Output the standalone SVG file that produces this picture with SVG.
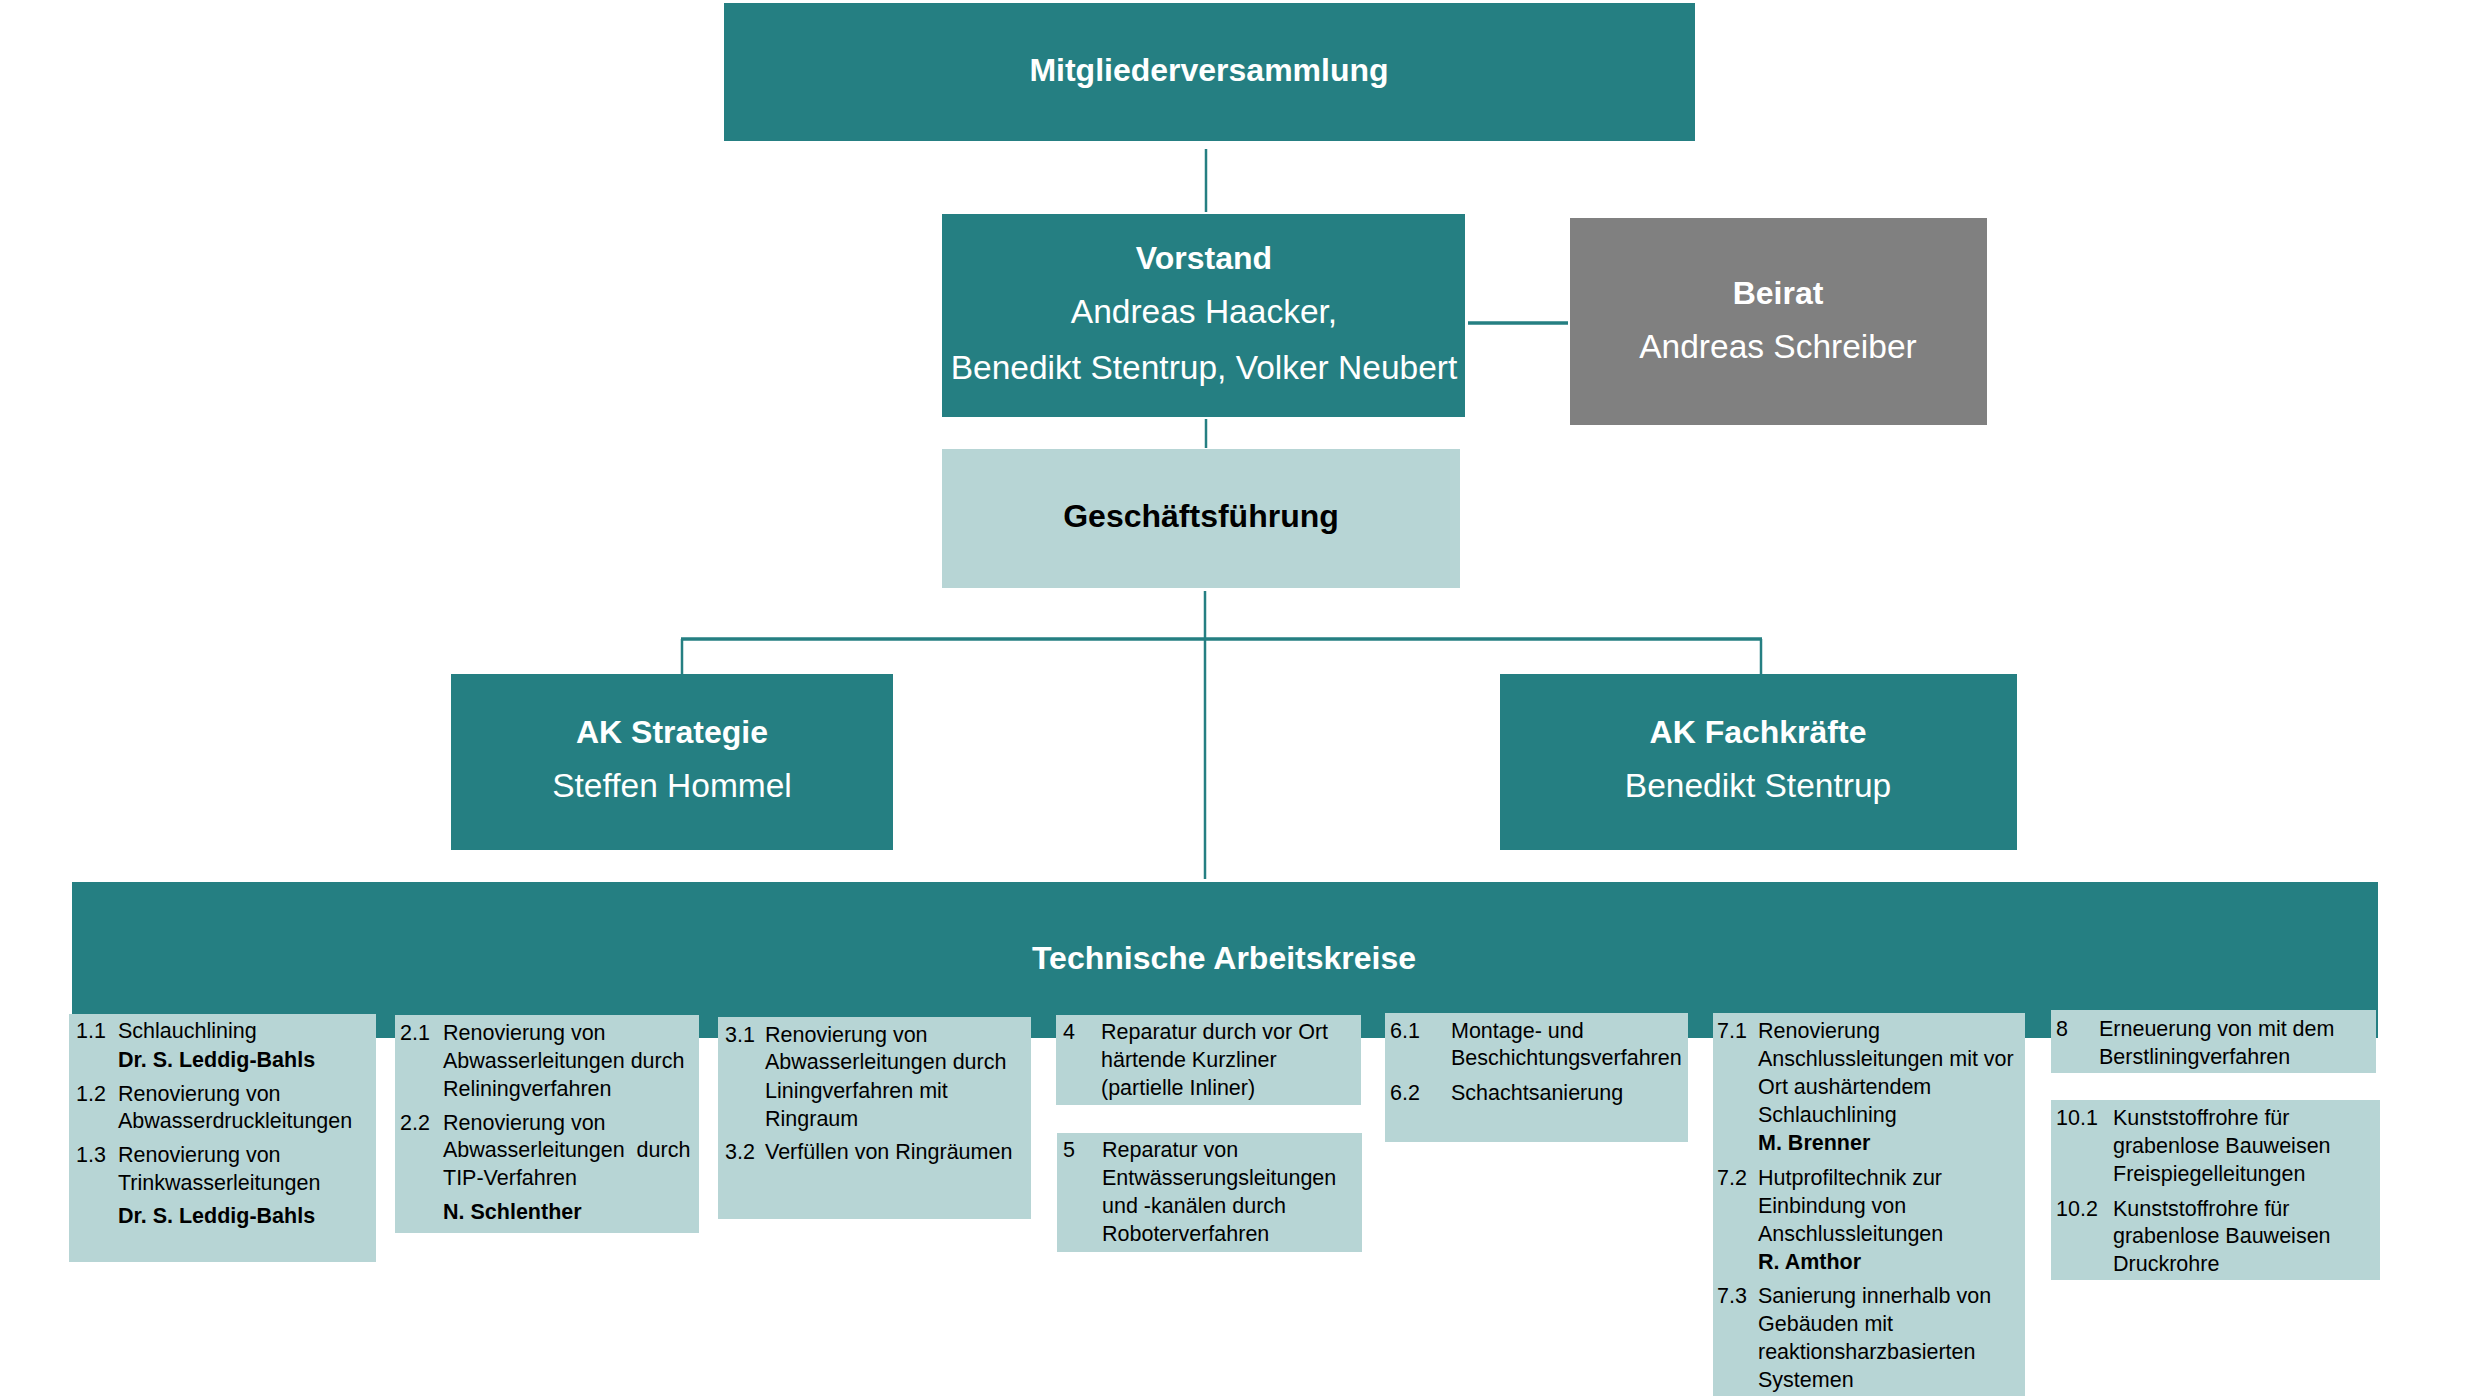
<svg xmlns="http://www.w3.org/2000/svg" width="2474" height="1396" viewBox="0 0 2474 1396">
<style>
text{font-family:"Liberation Sans",Arial,sans-serif;}
.dark{fill:#257F82;}
.grey{fill:#808080;}
.light{fill:#B7D5D5;}
.t{font-size:32px;font-weight:bold;fill:#fff;text-anchor:middle;}
.tb{font-size:32px;font-weight:bold;fill:#000;text-anchor:middle;}
.n{font-size:33.5px;fill:#fff;text-anchor:middle;}
.s{font-size:21.5px;fill:#000;white-space:pre;}
.sb{font-size:21.5px;fill:#000;font-weight:bold;}
.c{stroke:#257F82;fill:none;}
</style>
<g id="connectors">
<line class="c" x1="1206" y1="149" x2="1206" y2="212" stroke-width="2.5"/>
<line class="c" x1="1468" y1="323" x2="1568" y2="323" stroke-width="3.5"/>
<line class="c" x1="1206" y1="419" x2="1206" y2="448" stroke-width="2.5"/>
<line class="c" x1="1205" y1="591" x2="1205" y2="879" stroke-width="2.5"/>
<line class="c" x1="681" y1="639" x2="1762" y2="639" stroke-width="3.5"/>
<line class="c" x1="682" y1="639" x2="682" y2="675" stroke-width="2.5"/>
<line class="c" x1="1761" y1="639" x2="1761" y2="675" stroke-width="2.5"/>
</g>
<g id="mitgliederversammlung">
<rect class="dark" x="724" y="3" width="971" height="138"/>
<text class="t" x="1209" y="81">Mitgliederversammlung</text>
</g>
<g id="vorstand">
<rect class="dark" x="942" y="214" width="523" height="203"/>
<text class="t" x="1204" y="269">Vorstand</text>
<text class="n" x="1204" y="323">Andreas Haacker,</text>
<text class="n" x="1204" y="379">Benedikt Stentrup, Volker Neubert</text>
</g>
<g id="beirat">
<rect class="grey" x="1570" y="218" width="417" height="207"/>
<text class="t" x="1778" y="304">Beirat</text>
<text class="n" x="1778" y="358">Andreas Schreiber</text>
</g>
<g id="geschaeftsfuehrung">
<rect class="light" x="942" y="449" width="518" height="139"/>
<text class="tb" x="1201" y="527">Geschäftsführung</text>
</g>
<g id="ak-strategie">
<rect class="dark" x="451" y="674" width="442" height="176"/>
<text class="t" x="672" y="743">AK Strategie</text>
<text class="n" x="672" y="797">Steffen Hommel</text>
</g>
<g id="ak-fachkraefte">
<rect class="dark" x="1500" y="674" width="517" height="176"/>
<text class="t" x="1758" y="743">AK Fachkräfte</text>
<text class="n" x="1758" y="797">Benedikt Stentrup</text>
</g>
<g id="technische-arbeitskreise">
<rect class="dark" x="72" y="882" width="2306" height="156"/>
<text class="t" x="1224" y="969">Technische Arbeitskreise</text>
</g>
<g id="ak1">
<rect class="light" x="69" y="1014" width="307" height="248"/>
<text class="s" x="76" y="1038">1.1</text><text class="s" x="118" y="1038">Schlauchlining</text>
<text class="sb" x="118" y="1067">Dr. S. Leddig-Bahls</text>
<text class="s" x="76" y="1101">1.2</text><text class="s" x="118" y="1101">Renovierung von</text>
<text class="s" x="118" y="1128">Abwasserdruckleitungen</text>
<text class="s" x="76" y="1162">1.3</text><text class="s" x="118" y="1162">Renovierung von</text>
<text class="s" x="118" y="1190">Trinkwasserleitungen</text>
<text class="sb" x="118" y="1223">Dr. S. Leddig-Bahls</text>
</g>
<g id="ak2">
<rect class="light" x="395" y="1015" width="304" height="218"/>
<text class="s" x="400" y="1040">2.1</text><text class="s" x="443" y="1040">Renovierung von</text>
<text class="s" x="443" y="1068">Abwasserleitungen durch</text>
<text class="s" x="443" y="1096">Reliningverfahren</text>
<text class="s" x="400" y="1130">2.2</text><text class="s" x="443" y="1130">Renovierung von</text>
<text class="s" x="443" y="1157">Abwasserleitungen  durch</text>
<text class="s" x="443" y="1185">TIP-Verfahren</text>
<text class="sb" x="443" y="1219">N. Schlenther</text>
</g>
<g id="ak3">
<rect class="light" x="718" y="1017" width="313" height="202"/>
<text class="s" x="725" y="1042">3.1</text><text class="s" x="765" y="1042">Renovierung von</text>
<text class="s" x="765" y="1069">Abwasserleitungen durch</text>
<text class="s" x="765" y="1098">Liningverfahren mit</text>
<text class="s" x="765" y="1126">Ringraum</text>
<text class="s" x="725" y="1159">3.2</text><text class="s" x="765" y="1159">Verfüllen von Ringräumen</text>
</g>
<g id="ak4">
<rect class="light" x="1056" y="1015" width="305" height="90"/>
<text class="s" x="1063" y="1039">4</text><text class="s" x="1101" y="1039">Reparatur durch vor Ort</text>
<text class="s" x="1101" y="1067">härtende Kurzliner</text>
<text class="s" x="1101" y="1095">(partielle Inliner)</text>
</g>
<g id="ak5">
<rect class="light" x="1057" y="1133" width="305" height="119"/>
<text class="s" x="1063" y="1157">5</text><text class="s" x="1102" y="1157">Reparatur von</text>
<text class="s" x="1102" y="1185">Entwässerungsleitungen</text>
<text class="s" x="1102" y="1213">und -kanälen durch</text>
<text class="s" x="1102" y="1241">Roboterverfahren</text>
</g>
<g id="ak6">
<rect class="light" x="1385" y="1013" width="303" height="129"/>
<text class="s" x="1390" y="1038">6.1</text><text class="s" x="1451" y="1038">Montage- und</text>
<text class="s" x="1451" y="1065">Beschichtungsverfahren</text>
<text class="s" x="1390" y="1100">6.2</text><text class="s" x="1451" y="1100">Schachtsanierung</text>
</g>
<g id="ak7">
<rect class="light" x="1713" y="1013" width="312" height="383"/>
<text class="s" x="1717" y="1038">7.1</text><text class="s" x="1758" y="1038">Renovierung</text>
<text class="s" x="1758" y="1066">Anschlussleitungen mit vor</text>
<text class="s" x="1758" y="1094">Ort aushärtendem</text>
<text class="s" x="1758" y="1122">Schlauchlining</text>
<text class="sb" x="1758" y="1150">M. Brenner</text>
<text class="s" x="1717" y="1185">7.2</text><text class="s" x="1758" y="1185">Hutprofiltechnik zur</text>
<text class="s" x="1758" y="1213">Einbindung von</text>
<text class="s" x="1758" y="1241">Anschlussleitungen</text>
<text class="sb" x="1758" y="1269">R. Amthor</text>
<text class="s" x="1717" y="1303">7.3</text><text class="s" x="1758" y="1303">Sanierung innerhalb von</text>
<text class="s" x="1758" y="1331">Gebäuden mit</text>
<text class="s" x="1758" y="1359">reaktionsharzbasierten</text>
<text class="s" x="1758" y="1387">Systemen</text>
</g>
<g id="ak8">
<rect class="light" x="2051" y="1010" width="325" height="63"/>
<text class="s" x="2056" y="1036">8</text><text class="s" x="2099" y="1036">Erneuerung von mit dem</text>
<text class="s" x="2099" y="1064">Berstliningverfahren</text>
</g>
<g id="ak10">
<rect class="light" x="2051" y="1100" width="329" height="180"/>
<text class="s" x="2056" y="1125">10.1</text><text class="s" x="2113" y="1125">Kunststoffrohre für</text>
<text class="s" x="2113" y="1153">grabenlose Bauweisen</text>
<text class="s" x="2113" y="1181">Freispiegelleitungen</text>
<text class="s" x="2056" y="1216">10.2</text><text class="s" x="2113" y="1216">Kunststoffrohre für</text>
<text class="s" x="2113" y="1243">grabenlose Bauweisen</text>
<text class="s" x="2113" y="1271">Druckrohre</text>
</g>
</svg>
